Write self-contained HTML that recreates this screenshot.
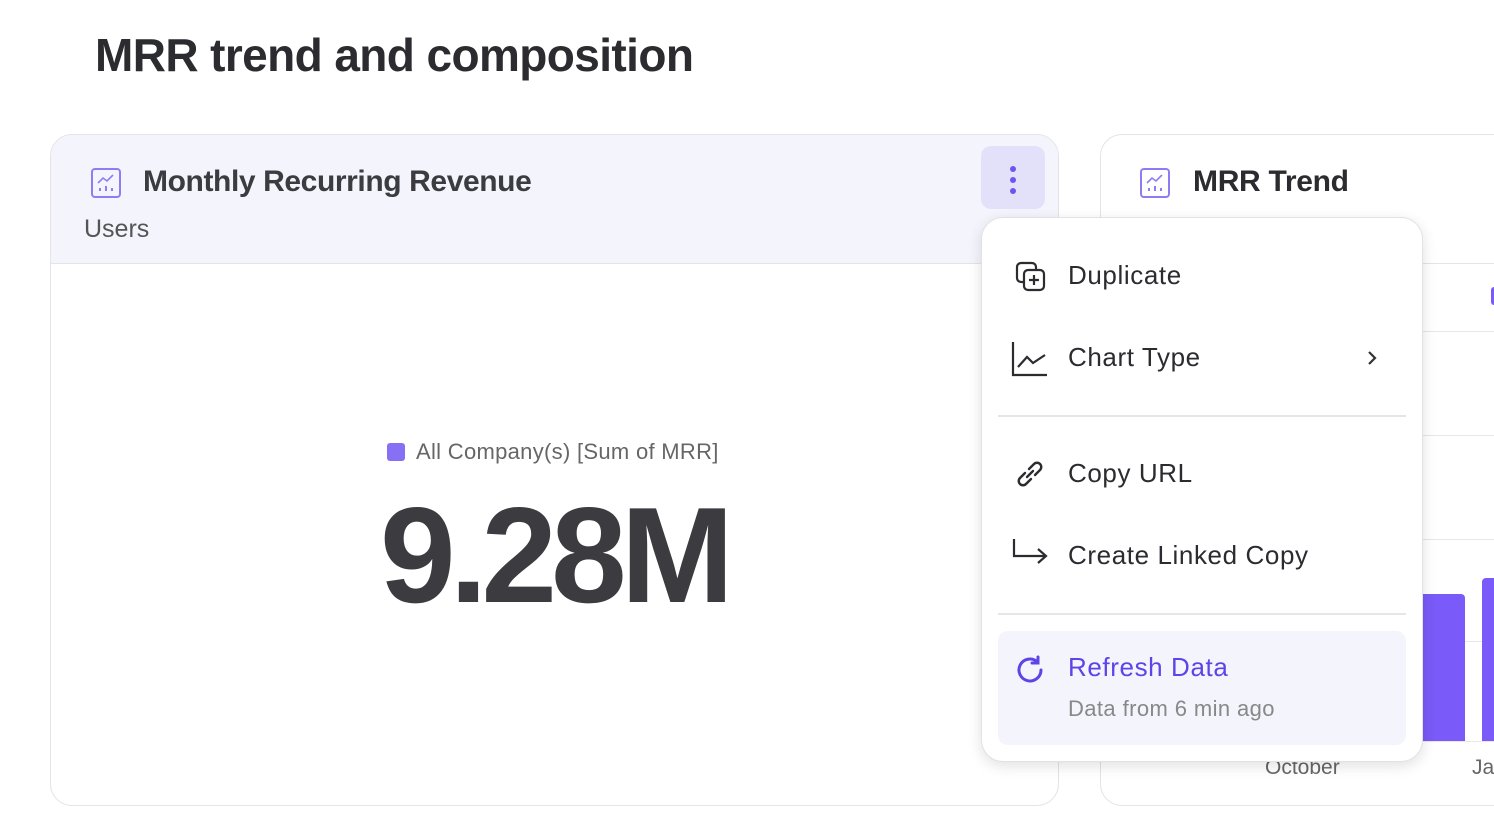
<!DOCTYPE html>
<html><head><style>
body{margin:0;width:1494px;height:816px;background:#fff;font-family:"Liberation Sans",sans-serif;overflow:hidden;position:relative;color:#3b3b40}
.a{position:absolute}
</style></head><body>
<div class="a" style="left:95px;top:28px;font-size:46px;font-weight:bold;color:#2b2b30;letter-spacing:-0.6px">MRR trend and composition</div>

<div class="a" style="left:50px;top:134px;width:1007px;height:670px;border:1px solid #e3e3e8;border-radius:22px;overflow:hidden">
  <div class="a" style="left:0;top:0;width:1007px;height:128px;background:#f4f4fc;border-bottom:1px solid #e3e3e8"></div>
  <svg class="a" style="left:39px;top:32px" width="32" height="32" viewBox="0 0 32 32"><rect x="2" y="2" width="28" height="28" rx="3" fill="none" stroke="#8e7cf5" stroke-width="2"/><polyline points="8,16 13,11 17,14 23,8" fill="none" stroke="#8e7cf5" stroke-width="1.6"/><g fill="#8e7cf5"><rect x="9" y="21" width="2" height="3"/><rect x="15" y="19" width="2" height="5"/><rect x="21" y="21" width="2" height="3"/></g></svg>
  <div class="a" style="left:92px;top:30px;font-size:30px;font-weight:bold;color:#3b3b40;letter-spacing:-0.4px">Monthly Recurring Revenue</div>
  <div class="a" style="left:33px;top:80px;font-size:25px;color:#555">Users</div>
  <div class="a" style="left:930px;top:11px;width:64px;height:63px;background:#e3e1fa;border-radius:10px"></div>
  <div class="a" style="left:959px;top:31px;width:6px;height:6px;border-radius:3px;background:#6b55f0"></div>
  <div class="a" style="left:959px;top:42px;width:6px;height:6px;border-radius:3px;background:#6b55f0"></div>
  <div class="a" style="left:959px;top:53px;width:6px;height:6px;border-radius:3px;background:#6b55f0"></div>
  <div class="a" style="left:336px;top:308px;width:18px;height:18px;border-radius:3px;background:#8870f5"></div>
  <div class="a" style="left:365px;top:304px;font-size:22px;color:#666;letter-spacing:0.3px">All Company(s) [Sum of MRR]</div>
  <div class="a" style="left:329px;top:342px;font-size:136px;font-weight:bold;color:#3b3b40;letter-spacing:-6px">9.28M</div>
</div>

<div class="a" style="left:1100px;top:134px;width:500px;height:670px;border:1px solid #e3e3e8;border-radius:22px;overflow:hidden">
  <svg class="a" style="left:38px;top:32px" width="32" height="32" viewBox="0 0 32 32"><rect x="2" y="2" width="28" height="28" rx="3" fill="none" stroke="#8e7cf5" stroke-width="2"/><polyline points="8,16 13,11 17,14 23,8" fill="none" stroke="#8e7cf5" stroke-width="1.6"/><g fill="#8e7cf5"><rect x="9" y="21" width="2" height="3"/><rect x="15" y="19" width="2" height="5"/><rect x="21" y="21" width="2" height="3"/></g></svg>
  <div class="a" style="left:92px;top:30px;font-size:30px;font-weight:bold;color:#2b2b30;letter-spacing:-0.3px">MRR Trend</div>
  <div class="a" style="left:0;top:128px;width:500px;border-top:1px solid #e3e3e8"></div>
  <div class="a" style="left:390px;top:152px;width:10px;height:18px;background:#7a5af8;border-radius:3px"></div>
  <div class="a" style="left:0;top:196px;width:500px;border-top:1px solid #e8e8ec"></div>
  <div class="a" style="left:0;top:300px;width:500px;border-top:1px solid #e8e8ec"></div>
  <div class="a" style="left:0;top:404px;width:500px;border-top:1px solid #e8e8ec"></div>
  <div class="a" style="left:0;top:506px;width:500px;border-top:1px solid #e8e8ec"></div>
  <div class="a" style="left:0;top:606px;width:500px;border-top:1px solid #e8e8ec"></div>
  <div class="a" style="left:310px;top:459px;width:54px;height:147px;background:#7a5af8;border-radius:4px 4px 0 0"></div>
  <div class="a" style="left:381px;top:443px;width:40px;height:163px;background:#7a5af8;border-radius:4px 4px 0 0"></div>
  <div class="a" style="left:164px;top:621px;font-size:21px;color:#666">October</div>
  <div class="a" style="left:371px;top:621px;font-size:21px;color:#666">Ja</div>
</div>

<div class="a" style="left:981px;top:217px;width:440px;height:543px;background:#fff;border:1px solid #e2e2e6;border-radius:22px;box-shadow:0 4px 14px rgba(0,0,0,0.12)">
  <svg class="a" style="left:32px;top:42px" width="34" height="34" viewBox="0 0 34 34" fill="none" stroke="#2b2b30" stroke-width="2.2"><rect x="3" y="3" width="19" height="19" rx="4"/><rect x="10" y="10" width="20" height="20" rx="4" fill="#fff"/><path d="M20 15v10M15 20h10"/></svg>
  <div class="a" style="left:86px;top:42px;font-size:26px;color:#2b2b30;letter-spacing:0.6px">Duplicate</div>
  <svg class="a" style="left:29px;top:122px" width="38" height="38" viewBox="0 0 38 38" fill="none" stroke="#2b2b30" stroke-width="2.2"><path d="M2 2v33h34"/><path d="M7 27l9-10 6 6 12-8"/></svg>
  <div class="a" style="left:86px;top:124px;font-size:26px;color:#2b2b30;letter-spacing:0.6px">Chart Type</div>
  <svg class="a" style="left:384px;top:131px" width="12" height="18" viewBox="0 0 12 18" fill="none" stroke="#333" stroke-width="2.2"><path d="M3 3l6 6-6 6"/></svg>
  <div class="a" style="left:16px;top:197px;width:408px;border-top:2px solid #e6e6ea"></div>
  <svg class="a" style="left:32px;top:240px" width="32" height="32" viewBox="0 0 32 32" fill="none" stroke="#2b2b30" stroke-width="2.4" stroke-linecap="round"><path d="M13 19l6-6"/><path d="M11 15l-5 5a4 4 0 0 0 6 6l5-5"/><path d="M21 17l5-5a4 4 0 0 0-6-6l-5 5"/></svg>
  <div class="a" style="left:86px;top:240px;font-size:26px;color:#2b2b30;letter-spacing:0.6px">Copy URL</div>
  <svg class="a" style="left:29px;top:318px" width="38" height="36" viewBox="0 0 38 36" fill="none" stroke="#2b2b30" stroke-width="2.2"><path d="M3 3v17h31"/><path d="M27 13l8 7-8 7"/></svg>
  <div class="a" style="left:86px;top:322px;font-size:26px;color:#2b2b30;letter-spacing:0.6px">Create Linked Copy</div>
  <div class="a" style="left:16px;top:395px;width:408px;border-top:2px solid #e6e6ea"></div>
  <div class="a" style="left:16px;top:413px;width:408px;height:114px;background:#f4f4fc;border-radius:10px"></div>
  <svg class="a" style="left:32px;top:436px" width="32" height="32" viewBox="0 0 32 32" fill="none" stroke="#5b45e8" stroke-width="3" stroke-linecap="round"><path d="M27 16a11 11 0 1 1-4-8.5"/><path d="M24 3v6h-6"/></svg>
  <div class="a" style="left:86px;top:434px;font-size:26px;color:#5b45e8;letter-spacing:0.6px">Refresh Data</div>
  <div class="a" style="left:86px;top:478px;font-size:22px;color:#888;letter-spacing:0.4px">Data from 6 min ago</div>
</div>
</body></html>
